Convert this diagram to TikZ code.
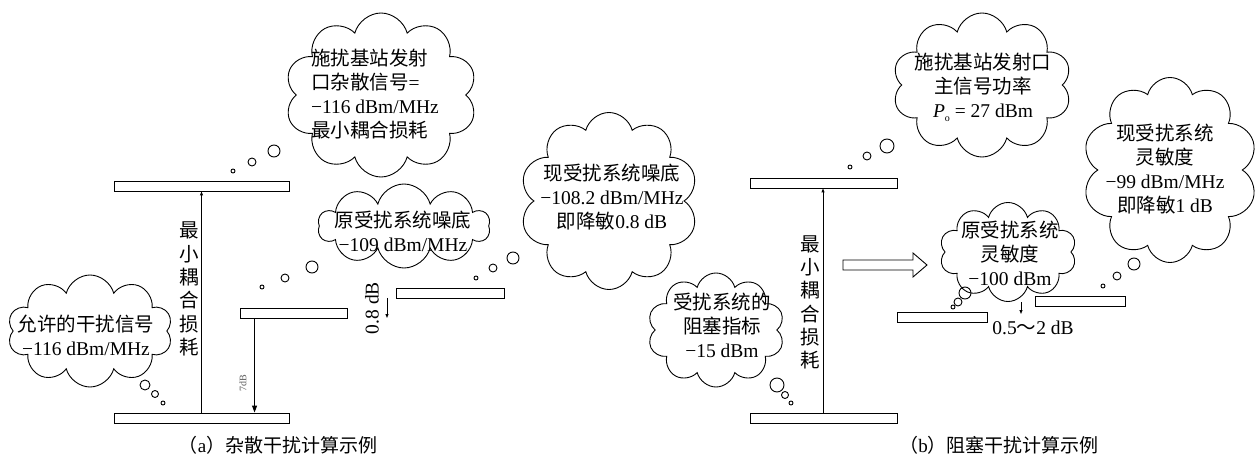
\documentclass[tikz,border=0pt]{standalone}
\usepackage{fontspec}
\setmainfont{Liberation Serif}
\newfontfamily\cjk{Noto Sans CJK SC}
\newcommand{\zh}[1]{{\cjk #1}}
\usetikzlibrary{shapes.symbols,arrows.meta}
\tikzset{
 bar/.style={draw, line width=0.9pt, inner sep=0pt, minimum height=10pt},
 cl/.style={draw, cloud, cloud puffs=10, cloud ignores aspect, line width=0.9pt, inner sep=0pt},
 txt/.style={align=center, font=\fontsize{19.5}{24}\selectfont, inner sep=0pt},
 vtxt/.style={align=center, font=\fontsize{19.5}{23.3}\selectfont, inner sep=0pt},
 bub/.style={draw, circle, line width=0.9pt, inner sep=0pt},
 arr/.style={-{Triangle[length=7pt,width=5pt]}, line width=0.9pt},
 sarr/.style={-{Triangle[length=4pt,width=3pt]}, line width=0.9pt},
}
\begin{document}
\begin{tikzpicture}[x=1pt,y=-1pt]
\useasboundingbox (0,0) rectangle (1259,457);
% ---------- (a) ----------
\node[bar, minimum width=175pt] (ta) at (201.5,186) {};
\node[bar, minimum width=175pt] (ba) at (201.5,418) {};
\node[bar, minimum width=107pt] (ma) at (293.5,313) {};
\node[bar, minimum width=108pt] (ra) at (450,293) {};
\draw[sarr] (ba.north) -- (ta.south);
\node[vtxt] (va) at (189,289) {\zh{最}\\\zh{小}\\\zh{耦}\\\zh{合}\\\zh{损}\\\zh{耗}};
\coordinate (s7) at ([xshift=15pt]ma.south west);
\draw[arr] (s7) -- (s7 |- ba.north);
\node[rotate=90, font=\fontsize{10}{10}\selectfont, text=black!65, inner sep=0pt] (l7) at (243,383) {7dB};
\coordinate (a08s) at (387,298);
\coordinate (a08e) at (387,318);
\draw[sarr] (a08s) -- (a08e);
\node[rotate=90, txt] (l08) at (372,308) {0.8 dB};
% clouds (a)
\node[cl, minimum width=165pt, minimum height=112pt] (c1) at (90,331) {};
\node[txt] (t1) at (86,335) {\zh{允许的干扰信号}\\−116 dBm/MHz};
\node[bub, minimum size=10pt] (b11) at (145,385) {};
\node[bub, minimum size=7pt] (b12) at (155,394) {};
\node[bub, minimum size=4pt] (b13) at (163,403) {};

\node[cl, minimum width=192pt, minimum height=164pt] (c2) at (381,95) {};
\node[txt, align=left] (t2) at (375,94) {\zh{施扰基站发射}\\\zh{口杂散信号}=\\−116 dBm/MHz\\\zh{最小耦合损耗}};
\node[bub, minimum size=4pt] (b21) at (233,171) {};
\node[bub, minimum size=8pt] (b22) at (252,162) {};
\node[bub, minimum size=12pt] (b23) at (274,151) {};

\node[cl, minimum width=172pt, minimum height=84pt] (c3) at (404,226) {};
\node[txt] (t3) at (403,231) {\zh{原受扰系统噪底}\\−109 dBm/MHz};
\node[bub, minimum size=4pt] (b31) at (262,287) {};
\node[bub, minimum size=8pt] (b32) at (285,278) {};
\node[bub, minimum size=12pt] (b33) at (312,267) {};

\node[cl, minimum width=178pt, minimum height=177pt] (c4) at (609,201) {};
\node[txt] (t4) at (612,197) {\zh{现受扰系统噪底}\\−108.2 dBm/MHz\\\zh{即降敏}0.8 dB};
\node[bub, minimum size=4pt] (b41) at (476,278) {};
\node[bub, minimum size=8pt] (b42) at (493,268) {};
\node[bub, minimum size=12pt] (b43) at (513,258) {};

\node[txt, font=\fontsize{19}{20}\selectfont] (capa) at (278,445) {\zh{（}a\zh{）杂散干扰计算示例}};
% ---------- (b) ----------
\node[bar, minimum width=147pt] (tb) at (823.5,183) {};
\node[bar, minimum width=147pt] (bb) at (823.5,418) {};
\node[bar, minimum width=90pt] (lb) at (942,317) {};
\node[bar, minimum width=90pt] (rb) at (1080,301) {};
\draw[sarr] (bb.north -| 823,0) -- (tb.south -| 823,0);
\node[vtxt] (vb) at (810,302.5) {\zh{最}\\\zh{小}\\\zh{耦}\\\zh{合}\\\zh{损}\\\zh{耗}};
\draw[line width=0.9pt] (843,260) -- (913,260) -- (913,253) -- (927,265) -- (913,277) -- (913,270) -- (843,270) -- cycle;
\coordinate (a05s) at (1021,302);
\coordinate (a05e) at (1021,314);
\draw[sarr] (a05s) -- (a05e);
\node[txt] (l05) at (1033,328) {0.5\zh{～}2 dB};

\node[cl, minimum width=137pt, minimum height=114pt] (c5) at (716,330) {};
\node[txt] (t5) at (722,325) {\zh{受扰系统的}\\\zh{阻塞指标}\\−15 dBm};
\node[bub, minimum width=12pt, minimum height=14pt] (b51) at (777,385) {};
\node[bub, minimum size=7pt] (b52) at (785,395) {};
\node[bub, minimum size=4pt] (b53) at (791,403) {};

\node[cl, minimum width=179pt, minimum height=144pt] (c6) at (982,85) {};
\node[txt] (t6) at (983,87) {\zh{施扰基站发射口}\\\zh{主信号功率}\\\textit{P}\raisebox{-4pt}{\fontsize{10}{10}\selectfont o} = 27 dBm};
\node[bub, minimum size=4pt] (b61) at (850,167) {};
\node[bub, minimum size=8pt] (b62) at (867,156) {};
\node[bub, minimum width=11pt, minimum height=14pt] (b63) at (887,146) {};

\node[cl, minimum width=137pt, minimum height=99pt] (c7) at (1008,252) {};
\node[txt] (t7) at (1010,253) {\zh{原受扰系统}\\\zh{灵敏度}\\−100 dBm};
\node[bub, minimum size=12pt] (b71) at (965,293) {};
\node[bub, minimum size=8pt] (b72) at (958,302) {};
\node[bub, minimum size=4pt] (b73) at (953,307) {};

\node[cl, minimum width=175pt, minimum height=185pt] (c8) at (1170,170) {};
\node[txt] (t8) at (1165,169) {\zh{现受扰系统}\\\zh{灵敏度}\\−99 dBm/MHz\\\zh{即降敏}1 dB};
\node[bub, minimum size=4pt] (b81) at (1103,286) {};
\node[bub, minimum size=8pt] (b82) at (1117,276) {};
\node[bub, minimum size=12pt] (b83) at (1134,264) {};

\node[txt, font=\fontsize{19}{20}\selectfont] (capb) at (999,445) {\zh{（}b\zh{）阻塞干扰计算示例}};
\end{tikzpicture}
\end{document}
